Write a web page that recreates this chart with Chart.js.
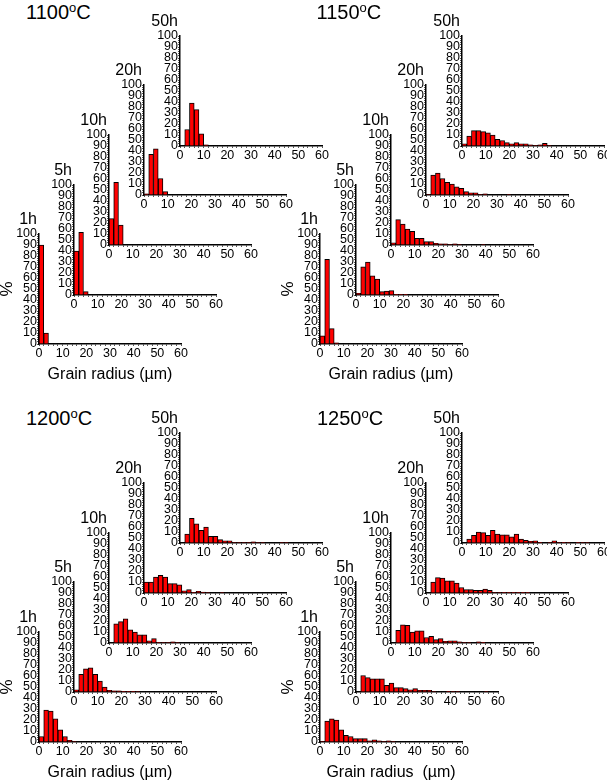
<!DOCTYPE html>
<html><head><meta charset="utf-8">
<script src="https://cdn.jsdelivr.net/npm/chart.js@4/dist/chart.umd.min.js"></script>
<style>
html,body{margin:0;padding:0;background:#fff;}
body{width:607px;height:782px;position:relative;overflow:hidden;font-family:"Liberation Sans",Arial,sans-serif;}
canvas{position:absolute;}
.temp{position:absolute;font-size:20px;line-height:1;color:#000;white-space:nowrap;}
.temp span{font-size:13px;position:relative;top:-7px;}
</style></head><body>
<script>
// ---- data ----
const temps = ['1100', '1150', '1200', '1250'];
const hours = ['1h', '5h', '10h', '20h', '50h'];
const binCenters = [1,3,5,7,9,11,13,15,17,19,21,23,25,27,29,31,33,35,37,39,41,43,45,47,49,51,53,55,57,59];
const xTickLabels = [0,10,20,30,40,50,60];
const yTickLabels = [0,10,20,30,40,50,60,70,80,90,100];
const xAxisTitles = ['Grain radius (\u00b5m)', 'Grain radius (\u00b5m)', 'Grain radius (\u00b5m)', 'Grain radius  (\u00b5m)'];
const yAxisTitle = '%';

const t1100_1h  = [90, 10];
const t1100_5h  = [40, 57, 3];
const t1100_10h = [24, 57, 18];
const t1100_20h = [1, 37, 42, 15, 3];
const t1100_50h = [0, 15, 39, 33, 11, 1];

const t1150_1h  = [7.5, 77, 14, 1];
const t1150_5h  = [1.5, 25.5, 30, 17.5, 14.5, 3, 3.5, 4, 0.6, 0.3, 0.3];
const t1150_10h = [2, 23, 19, 14.5, 12.5, 6, 6, 3, 3, 1.5, 1, 1, 0.5, 1, 0.5, 0, 0, 0, 0, 0.5];
const t1150_20h = [0.5, 18, 20, 15, 11.5, 10, 7.5, 6, 3, 2, 2, 0.5, 1, 0, 0, 0, 0, 0.5];
const t1150_50h = [2, 9, 14, 14, 13, 12, 10, 6, 5, 3, 2, 3, 2, 2, 1, 0.5, 1, 2.5, 0.5];

const t1200_1h  = [5, 29, 28, 21, 11, 5, 1.5, 0.5];
const t1200_5h  = [2, 16, 21, 22, 16, 10, 4.5, 1.5, 1, 1, 0.3, 0.3, 0.3, 0.5];
const t1200_10h = [0, 17.5, 19.5, 22, 12, 10, 7.5, 7.5, 2, 4, 0.3, 0.5, 0.5, 1, 0.5];
const t1200_20h = [10, 10, 14.5, 16, 14.5, 8.5, 8.5, 7.5, 2, 3, 0.3, 1.5, 0.8, 0.5, 0, 0, 0.5];
const t1200_50h = [0, 8, 22.5, 17.5, 11.5, 14.5, 6, 6, 3, 2, 2, 0.5, 0.5, 0.5, 0.5, 1, 0.5, 0.5, 0, 0, 0, 0.5, 0.5];

const t1250_1h  = [0.5, 19, 21, 20, 11, 6, 5, 3, 3, 3, 1, 2, 1, 0.5, 1, 0.5];
const t1250_5h  = [0, 15, 13, 12, 12, 12, 6, 8, 4, 4, 3, 2, 3, 1.5, 1.5, 1.5, 0.5, 0, 0, 0.3, 0.5, 0.5, 0, 0, 0, 0, 0, 0.5];
const t1250_10h = [0, 11.5, 16.5, 16, 10, 11, 11, 5, 6, 3, 4, 1.5, 2, 2, 1, 0.5, 0.5, 0, 1, 0.3];
const t1250_20h = [0, 10, 14, 13.5, 11, 11, 9, 5, 3, 3, 2.5, 2.5, 3.5, 2.5, 0.5, 0.5, 0.3, 0.3, 0.3, 0.3, 0.3, 0.3];
const t1250_50h = [0, 3.5, 7, 10, 9.5, 7, 11.5, 8, 7.5, 7.5, 5.5, 8, 3.5, 2.5, 1.5, 2, 0.3, 0, 0.5, 2, 0.5, 0.3, 0.5, 0, 0.3, 0.5, 0.5];

const seriesByPanel = [
  [t1100_1h, t1100_5h, t1100_10h, t1100_20h, t1100_50h],
  [t1150_1h, t1150_5h, t1150_10h, t1150_20h, t1150_50h],
  [t1200_1h, t1200_5h, t1200_10h, t1200_20h, t1200_50h],
  [t1250_1h, t1250_5h, t1250_10h, t1250_20h, t1250_50h]
];

// ---- layout (positions only) ----
const FONT = '"Liberation Sans", Arial, sans-serif';
Chart.defaults.font.family = FONT;
Chart.defaults.color = '#000';
const panels = [
  {ax: 38.5,  zy: 344.3, tl: 26,  tt: 2},
  {ax: 320.3, zy: 344.3, tl: 316.5, tt: 2},
  {ax: 38.5,  zy: 742,   tl: 26,  tt: 407.5},
  {ax: 320.3, zy: 742,   tl: 317, tt: 407.5}
];
const DX = 35.3, DY = 49.65;
const PLOT_W = 142, PLOT_H = 110, PAD_T = 24, PAD_R = 10;

const hourLabelPlugin = {
  id: 'hourLabel',
  afterDraw(chart, args, opts) {
    const {ctx, chartArea} = chart;
    ctx.save();
    ctx.font = '16px ' + FONT;
    ctx.fillStyle = '#000';
    ctx.textAlign = 'right';
    ctx.textBaseline = 'alphabetic';
    ctx.fillText(opts.text, chartArea.left - 2, chartArea.top - 10);
    ctx.restore();
  }
};

function makeChart(pi, hi) {
  const values = seriesByPanel[pi][hi];
  const first = hi === 0;
  const yW = first ? 42 : 30;
  const xH = first ? 40 : 20;
  const ax = panels[pi].ax + hi * DX;
  const zy = panels[pi].zy - hi * DY;
  const W = yW + PLOT_W + PAD_R;
  const H = PAD_T + PLOT_H + xH;
  const cv = document.createElement('canvas');
  cv.width = W; cv.height = H;
  cv.style.width = W + 'px'; cv.style.height = H + 'px';
  cv.style.left = Math.round(ax - yW) + 'px';
  cv.style.top = Math.round(zy - PLOT_H - PAD_T) + 'px';
  document.body.appendChild(cv);
  const gridOpts = {display: true, drawOnChartArea: false, drawTicks: true, tickLength: 2, tickColor: '#555', offset: false};
  new Chart(cv, {
    type: 'bar',
    data: {
      datasets: [{
        data: values.map((v, i) => ({x: binCenters[i], y: v})),
        backgroundColor: '#ff0000',
        borderColor: '#000',
        borderWidth: 1,
        barPercentage: 1,
        categoryPercentage: 1
      }]
    },
    options: {
      responsive: false,
      animation: false,
      devicePixelRatio: 1,
      layout: {padding: {left: 0, top: PAD_T, right: PAD_R, bottom: 0}},
      plugins: {legend: {display: false}, tooltip: {enabled: false}, hourLabel: {text: hours[hi]}},
      scales: {
        x: {
          type: 'linear', min: 0, max: 60, offset: false,
          grid: gridOpts,
          border: {color: '#000', width: 1.5},
          ticks: {stepSize: 2, autoSkip: false, maxRotation: 0, minRotation: 0, padding: 0, color: '#000',
                  font: {size: 12.5}, callback: v => xTickLabels.includes(v) ? String(v) : ''},
          title: {display: first, text: xAxisTitles[pi], font: {size: 16}, color: '#000', padding: 0},
          afterFit: s => { s.height = xH; }
        },
        y: {
          type: 'linear', min: 0, max: 100,
          grid: gridOpts,
          border: {color: '#000', width: 1.5},
          ticks: {stepSize: 2, autoSkip: false, padding: 0, color: '#000',
                  font: {size: 12.5}, callback: v => yTickLabels.includes(v) ? String(v) : ''},
          title: {display: first, text: yAxisTitle, font: {size: 17}, color: '#000', padding: 0},
          afterFit: s => { s.width = yW; }
        }
      }
    },
    plugins: [hourLabelPlugin]
  });
}

for (let pi = 0; pi < 4; pi++) {
  const d = document.createElement('div');
  d.className = 'temp';
  d.style.left = panels[pi].tl + 'px';
  d.style.top = panels[pi].tt + 'px';
  d.innerHTML = temps[pi] + '<span>o</span>C';
  document.body.appendChild(d);
  for (let hi = 0; hi < 5; hi++) makeChart(pi, hi);
}
</script>
</body></html>
